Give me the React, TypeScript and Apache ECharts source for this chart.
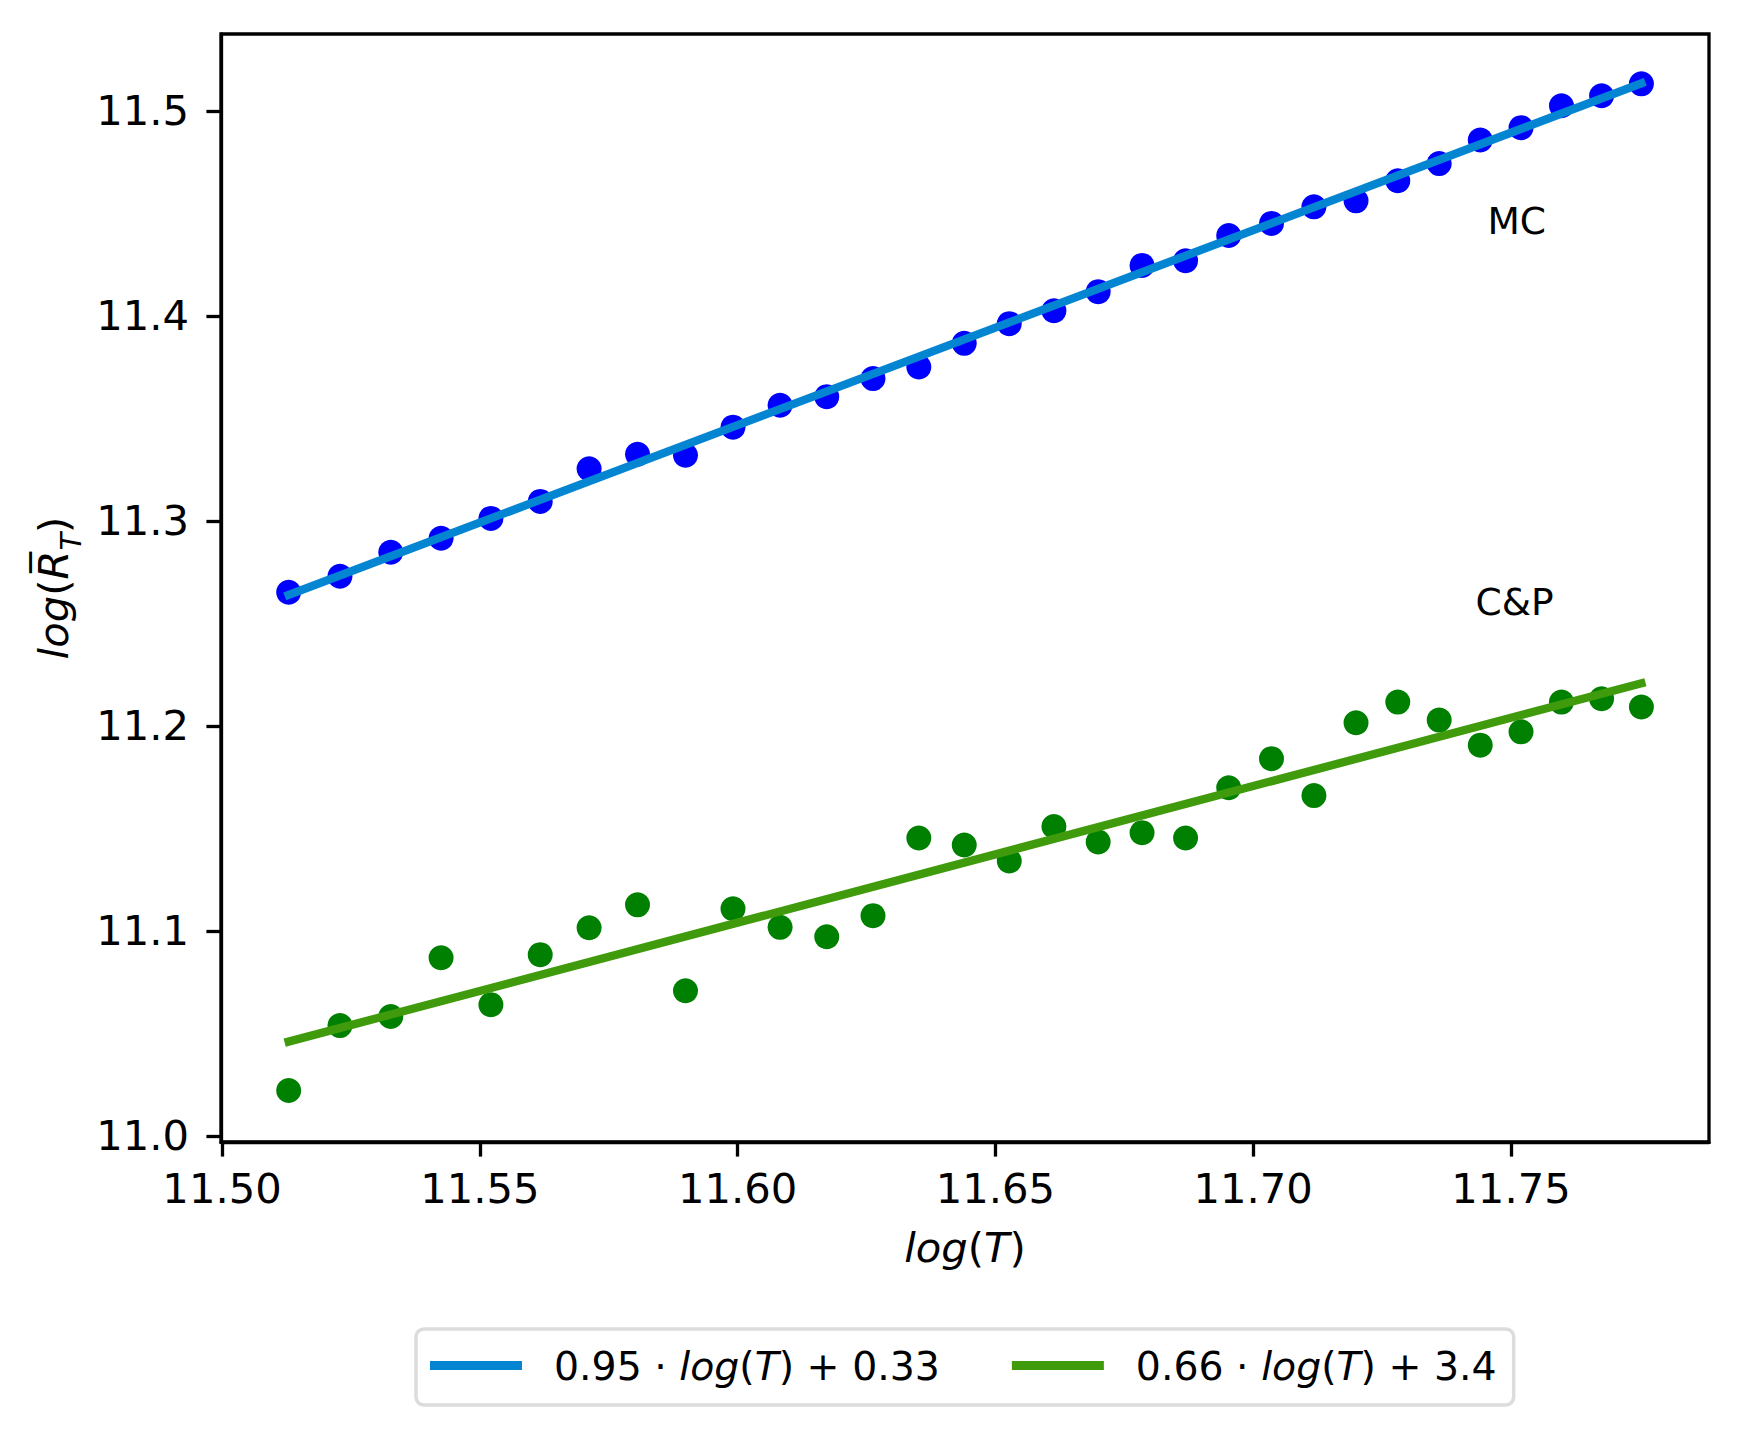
import React, { useEffect, useRef } from "react";
import * as echarts from "echarts";

// ln(T) for T = 100000 ... 130000
const logT = [
  11.512925, 11.522875, 11.532728, 11.542484, 11.552146, 11.561716, 11.571194,
  11.580584, 11.589886, 11.599103, 11.608236, 11.617285, 11.626254, 11.635143,
  11.643954, 11.652687, 11.661345, 11.669929, 11.67844, 11.686879, 11.695247,
  11.703546, 11.711776, 11.71994, 11.728037, 11.736069, 11.744037, 11.751942,
  11.759786, 11.767568, 11.77529,
];

const mcValues = [
  11.2652, 11.273, 11.2847, 11.2915, 11.3012, 11.3095, 11.3254, 11.3325, 11.332,
  11.3457, 11.3564, 11.3606, 11.3694, 11.3751, 11.3866, 11.3962, 11.4025, 11.4118,
  11.4246, 11.4269, 11.4392, 11.4451, 11.4532, 11.4561, 11.4659, 11.4743, 11.4858,
  11.4918, 11.5025, 11.5074, 11.5132,
];

const cpValues = [
  11.0221, 11.0538, 11.0582, 11.0869, 11.064, 11.0884, 11.1015, 11.1127, 11.0708,
  11.1108, 11.1017, 11.0971, 11.1074, 11.1453, 11.1419, 11.1341, 11.1509, 11.1434,
  11.1479, 11.1453, 11.1698, 11.184, 11.166, 11.2015, 11.2116, 11.2028, 11.1906,
  11.1971, 11.2116, 11.2132, 11.2092,
];

// fitted lines: endpoints
const fitX = [11.512925, 11.77529];
const mcFit = [11.2639, 11.5134];
const cpFit = [11.046, 11.2208];

const fitNames = ["0.95·log(T)+0.33", "0.66·log(T)+3.4"];
const fitLegendRich = [
  "{n|0.95 · }{i|log}{n|(}{i|T}{n|) + 0.33}",
  "{n|0.66 · }{i|log}{n|(}{i|T}{n|) + 3.4}",
];

const annotations = [
  { name: "MC", x: 11.7511, y: 11.4465 },
  { name: "C&P", x: 11.7507, y: 11.2606 },
];

const xTicks = [11.5, 11.55, 11.6, 11.65, 11.7, 11.75];
const yTicks = [11.0, 11.1, 11.2, 11.3, 11.4, 11.5];

const FONT = "DejaVu Sans";
const BLACK = "#000000";

export default function App() {
  const ref = useRef<HTMLDivElement>(null);

  useEffect(() => {
    document.body.style.margin = "0";
    document.body.style.overflow = "hidden";
    if (!ref.current) return;
    const chart = echarts.init(ref.current, null, { renderer: "svg" });

    const axisRich = {
      i: { fontFamily: FONT, fontSize: 41.7, fontStyle: "italic", color: BLACK, lineHeight: 50 },
      n: { fontFamily: FONT, fontSize: 41.7, color: BLACK, lineHeight: 50 },
    };
    const yNameRich = {
      i: { fontFamily: FONT, fontSize: 41.7, fontStyle: "italic", color: BLACK, lineHeight: 64 },
      n: { fontFamily: FONT, fontSize: 41.7, color: BLACK, lineHeight: 64 },
      s: { fontFamily: FONT, fontSize: 29, fontStyle: "italic", color: BLACK, lineHeight: 64, verticalAlign: "bottom" },
    };
    const legendRich = {
      i: { fontFamily: FONT, fontSize: 39.4, fontStyle: "italic", color: BLACK, lineHeight: 50 },
      n: { fontFamily: FONT, fontSize: 39.4, color: BLACK, lineHeight: 50 },
    };

    const option: any = {
      animation: false,
      backgroundColor: "#ffffff",
      grid: {
        left: 221,
        top: 34,
        width: 1488,
        height: 1108,
        show: true,
        borderColor: BLACK,
        borderWidth: 3.3,
        backgroundColor: "transparent",
      },
      xAxis: {
        type: "value",
        min: 11.4998,
        max: 11.7884,
        name: "{i|log}{n|(}{i|T}{n|)}",
        nameLocation: "middle",
        nameGap: 80,
        nameTextStyle: { rich: axisRich },
        axisLine: { show: true, onZero: false, lineStyle: { color: BLACK, width: 3.3 } },
        axisTick: {
          show: true,
          inside: false,
          length: 14.6,
          lineStyle: { color: BLACK, width: 3.3 },
          customValues: xTicks,
        },
        axisLabel: {
          show: true,
          margin: 25,
          fontFamily: FONT,
          fontSize: 41.7,
          color: BLACK,
          customValues: xTicks,
          formatter: (v: number) => v.toFixed(2),
        },
        splitLine: { show: false },
      },
      yAxis: {
        type: "value",
        min: 10.997,
        max: 11.5375,
        name: "{i|log}{n|(}{i|R\u0305}{s|T}{n|)}",
        nameLocation: "middle",
        nameRotate: 90,
        nameGap: 132,
        nameTextStyle: { rich: yNameRich },
        axisLine: { show: true, onZero: false, lineStyle: { color: BLACK, width: 3.3 } },
        axisTick: {
          show: true,
          inside: false,
          length: 14.6,
          lineStyle: { color: BLACK, width: 3.3 },
          customValues: yTicks,
        },
        axisLabel: {
          show: true,
          margin: 32,
          fontFamily: FONT,
          fontSize: 41.7,
          color: BLACK,
          customValues: yTicks,
          formatter: (v: number) => v.toFixed(1),
        },
        splitLine: { show: false },
      },
      legend: {
        show: true,
        data: fitNames,
        orient: "horizontal",
        left: 416,
        top: 1329,
        padding: [17, 17, 20, 14],
        itemGap: 72,
        itemWidth: 92,
        itemHeight: 9,
        icon: "rect",
        selectedMode: false,
        borderColor: "#dcdcdc",
        borderWidth: 3.5,
        borderRadius: 8,
        backgroundColor: "#ffffff",
        formatter: (name: string) => fitLegendRich[fitNames.indexOf(name)],
        textStyle: { rich: legendRich, padding: [0, 0, 0, 27] },
      },
      series: [
        {
          type: "scatter",
          name: "MC points",
          data: logT.map((x, i) => [x, mcValues[i]]),
          symbol: "circle",
          symbolSize: 25,
          itemStyle: { color: "#0000ff", opacity: 1 },
          silent: true,
          z: 2,
        },
        {
          type: "scatter",
          name: "C&P points",
          data: logT.map((x, i) => [x, cpValues[i]]),
          symbol: "circle",
          symbolSize: 25,
          itemStyle: { color: "#008000", opacity: 1 },
          silent: true,
          z: 2,
        },
        {
          type: "line",
          name: fitNames[0],
          data: fitX.map((x, i) => [x, mcFit[i]]),
          symbol: "none",
          lineStyle: { color: "#0485d1", width: 8.3, cap: "square" },
          itemStyle: { color: "#0485d1" },
          silent: true,
          z: 3,
        },
        {
          type: "line",
          name: fitNames[1],
          data: fitX.map((x, i) => [x, cpFit[i]]),
          symbol: "none",
          lineStyle: { color: "#3f9b0b", width: 8.3, cap: "square" },
          itemStyle: { color: "#3f9b0b" },
          silent: true,
          z: 3,
        },
        {
          type: "scatter",
          name: "annotations",
          data: annotations.map((a) => ({ name: a.name, value: [a.x, a.y] })),
          symbolSize: 0,
          itemStyle: { color: BLACK },
          silent: true,
          z: 4,
          label: {
            show: true,
            position: "inside",
            formatter: (p: any) => p.name,
            fontFamily: FONT,
            fontSize: 37.5,
            color: BLACK,
            opacity: 1,
            textBorderWidth: 0,
            align: "center",
            verticalAlign: "middle",
          },
        },
      ],
    };

    chart.setOption(option);
    return () => {
      chart.dispose();
    };
  }, []);

  return <div ref={ref} style={{ width: 1742, height: 1435 }} />;
}
